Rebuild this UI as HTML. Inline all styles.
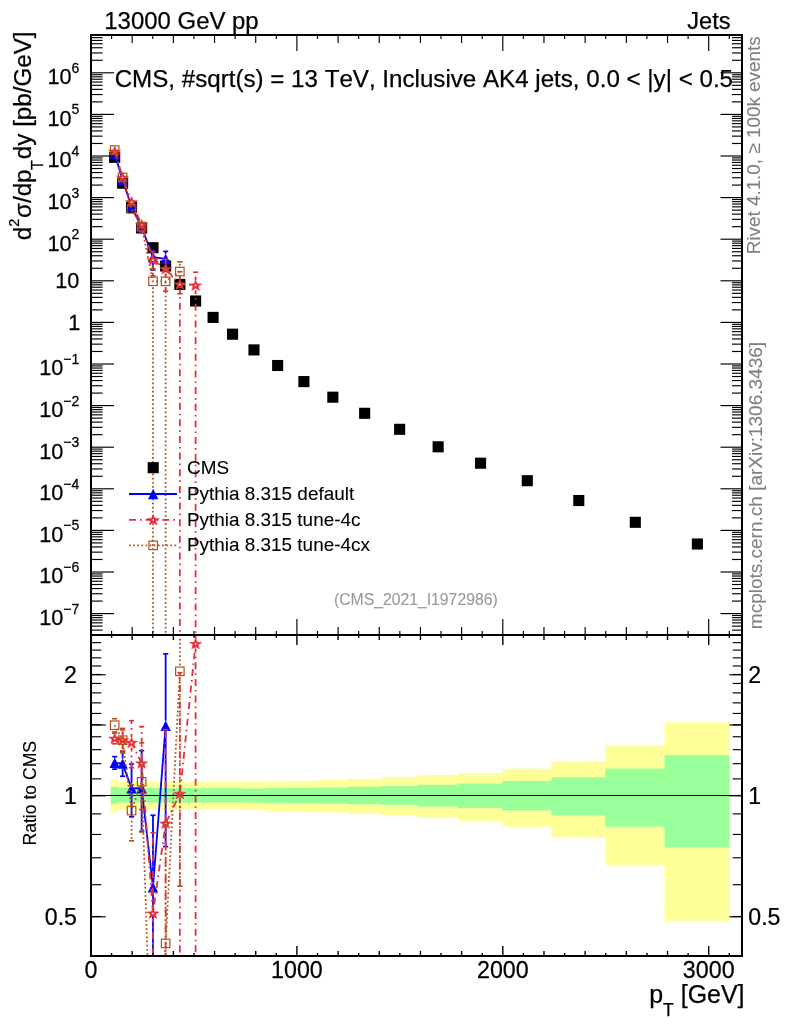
<!DOCTYPE html>
<html><head><meta charset="utf-8"><title>CMS_2021_I1972986</title>
<style>html,body{margin:0;padding:0;background:#fff}svg{display:block;will-change:transform}text{font-family:"Liberation Sans",sans-serif;stroke-width:.25px;stroke:#000;font-kerning:none}text.s{stroke-width:.1px}text.g{stroke:#808080;stroke-width:.1px}text.g2{stroke:#999;stroke-width:.1px}</style></head>
<body>
<svg width="786" height="1024" viewBox="0 0 786 1024" font-family="Liberation Sans, sans-serif">
<rect width="786" height="1024" fill="#fff"/>
<defs>
<clipPath id="cm"><rect x="91.0" y="35.0" width="651.0" height="600.0"/></clipPath>
<clipPath id="cr"><rect x="91.0" y="635.0" width="651.0" height="321.0"/></clipPath>
</defs>
<path d="M110.67 779.30L118.08 779.30L118.08 782.10L126.53 782.10L126.53 782.10L136.00 782.10L136.00 782.10L146.70 782.10L146.70 782.10L158.65 782.10L158.65 782.10L172.03 782.10L172.03 782.10L187.06 782.10L187.06 782.10L203.53 782.10L203.53 782.10L222.06 782.10L222.06 782.10L242.45 782.10L242.45 781.90L264.89 781.90L264.89 781.30L289.81 781.30L289.81 780.90L317.40 780.90L317.40 779.90L347.66 779.90L347.66 778.80L381.02 778.80L381.02 777.00L417.67 777.00L417.67 775.00L458.03 775.00L458.03 773.00L502.50 773.00L502.50 768.80L551.50 768.80L551.50 761.20L605.45 761.20L605.45 745.20L664.54 745.20L664.54 722.30L729.61 722.30L729.61 921.50L664.54 921.50L664.54 865.20L605.45 865.20L605.45 837.60L551.50 837.60L551.50 826.80L502.50 826.80L502.50 821.20L458.03 821.20L458.03 817.80L417.67 817.80L417.67 815.50L381.02 815.50L381.02 813.90L347.66 813.90L347.66 812.40L317.40 812.40L317.40 811.80L289.81 811.80L289.81 811.20L264.89 811.20L264.89 809.80L242.45 809.80L242.45 809.40L222.06 809.40L222.06 809.40L203.53 809.40L203.53 809.40L187.06 809.40L187.06 809.40L172.03 809.40L172.03 809.40L158.65 809.40L158.65 809.40L146.70 809.40L146.70 809.40L136.00 809.40L136.00 809.40L126.53 809.40L126.53 809.40L118.08 809.40L118.08 812.70L110.67 812.70Z" fill="#ffff99"/>
<path d="M110.67 786.90L118.08 786.90L118.08 788.10L126.53 788.10L126.53 788.10L136.00 788.10L136.00 788.10L146.70 788.10L146.70 788.10L158.65 788.10L158.65 788.10L172.03 788.10L172.03 788.10L187.06 788.10L187.06 788.10L203.53 788.10L203.53 788.10L222.06 788.10L222.06 788.10L242.45 788.10L242.45 788.60L264.89 788.60L264.89 788.00L289.81 788.00L289.81 787.80L317.40 787.80L317.40 787.40L347.66 787.40L347.66 786.80L381.02 786.80L381.02 786.10L417.67 786.10L417.67 784.80L458.03 784.80L458.03 783.40L502.50 783.40L502.50 781.10L551.50 781.10L551.50 777.20L605.45 777.20L605.45 768.40L664.54 768.40L664.54 755.30L729.61 755.30L729.61 847.60L664.54 847.60L664.54 826.80L605.45 826.80L605.45 815.50L551.50 815.50L551.50 810.50L502.50 810.50L502.50 808.00L458.03 808.00L458.03 806.60L417.67 806.60L417.67 805.00L381.02 805.00L381.02 804.30L347.66 804.30L347.66 803.80L317.40 803.80L317.40 803.60L289.81 803.60L289.81 803.30L264.89 803.30L264.89 802.70L242.45 802.70L242.45 802.40L222.06 802.40L222.06 802.40L203.53 802.40L203.53 802.40L187.06 802.40L187.06 802.40L172.03 802.40L172.03 802.40L158.65 802.40L158.65 802.40L146.70 802.40L146.70 802.40L136.00 802.40L136.00 802.40L126.53 802.40L126.53 802.40L118.08 802.40L118.08 803.80L110.67 803.80Z" fill="#99ff99"/>
<line x1="91.0" x2="742.0" y1="795.5" y2="795.5" stroke="#000" stroke-width="1.2"/>
<g clip-path="url(#cm)">
<rect x="109.13" y="151.75" width="11.1" height="11.1" fill="#000"/>
<rect x="117.06" y="177.65" width="11.1" height="11.1" fill="#000"/>
<rect x="126.01" y="201.85" width="11.1" height="11.1" fill="#000"/>
<rect x="136.10" y="222.45" width="11.1" height="11.1" fill="#000"/>
<rect x="147.43" y="242.15" width="11.1" height="11.1" fill="#000"/>
<rect x="160.09" y="260.45" width="11.1" height="11.1" fill="#000"/>
<rect x="174.30" y="278.85" width="11.1" height="11.1" fill="#000"/>
<rect x="190.05" y="295.45" width="11.1" height="11.1" fill="#000"/>
<rect x="207.55" y="311.85" width="11.1" height="11.1" fill="#000"/>
<rect x="227.01" y="328.65" width="11.1" height="11.1" fill="#000"/>
<rect x="248.42" y="344.35" width="11.1" height="11.1" fill="#000"/>
<rect x="272.10" y="359.95" width="11.1" height="11.1" fill="#000"/>
<rect x="298.35" y="376.05" width="11.1" height="11.1" fill="#000"/>
<rect x="327.28" y="391.65" width="11.1" height="11.1" fill="#000"/>
<rect x="359.09" y="407.75" width="11.1" height="11.1" fill="#000"/>
<rect x="394.09" y="423.75" width="11.1" height="11.1" fill="#000"/>
<rect x="432.60" y="441.25" width="11.1" height="11.1" fill="#000"/>
<rect x="475.01" y="457.65" width="11.1" height="11.1" fill="#000"/>
<rect x="521.75" y="475.15" width="11.1" height="11.1" fill="#000"/>
<rect x="573.23" y="494.95" width="11.1" height="11.1" fill="#000"/>
<rect x="629.75" y="516.75" width="11.1" height="11.1" fill="#000"/>
<rect x="691.83" y="538.45" width="11.1" height="11.1" fill="#000"/>
<polyline points="114.68,153.92 122.61,179.90 131.56,206.67 141.65,227.24 152.98,257.19 165.64,258.79" fill="none" stroke="#0000ff" stroke-width="1.8"/>
<line x1="152.98" x2="152.98" y1="252.19" y2="249.74" stroke="#0000ff" stroke-width="1.8"/>
<line x1="150.38" x2="155.58" y1="249.74" y2="249.74" stroke="#0000ff" stroke-width="1.6"/>
<line x1="152.98" x2="152.98" y1="262.19" y2="270.08" stroke="#0000ff" stroke-width="1.8"/>
<line x1="150.38" x2="155.58" y1="270.08" y2="270.08" stroke="#0000ff" stroke-width="1.6"/>
<line x1="165.64" x2="165.64" y1="253.79" y2="251.34" stroke="#0000ff" stroke-width="1.8"/>
<line x1="163.04" x2="168.24" y1="251.34" y2="251.34" stroke="#0000ff" stroke-width="1.6"/>
<line x1="165.64" x2="165.64" y1="263.79" y2="271.29" stroke="#0000ff" stroke-width="1.8"/>
<line x1="163.04" x2="168.24" y1="271.29" y2="271.29" stroke="#0000ff" stroke-width="1.6"/>
<path d="M109.48 159.12L119.88 159.12L114.68 148.72Z" fill="#0000ff"/>
<path d="M117.41 185.10L127.81 185.10L122.61 174.70Z" fill="#0000ff"/>
<path d="M126.36 211.87L136.76 211.87L131.56 201.47Z" fill="#0000ff"/>
<path d="M136.45 232.44L146.85 232.44L141.65 222.04Z" fill="#0000ff"/>
<path d="M147.78 262.39L158.18 262.39L152.98 251.99Z" fill="#0000ff"/>
<path d="M160.44 263.99L170.84 263.99L165.64 253.59Z" fill="#0000ff"/>
<polyline points="114.68,151.40 122.61,177.47 131.56,201.93 141.65,224.66 152.98,259.89 165.64,268.89 179.85,284.21 195.60,285.29" fill="none" stroke="#e5303c" stroke-width="1.8" stroke-dasharray="7 4 1.65 4"/>
<line x1="152.98" x2="152.98" y1="254.89" y2="251.56" stroke="#e5303c" stroke-width="1.8" stroke-dasharray="7 4 1.65 4" stroke-dashoffset="3.10"/>
<line x1="150.38" x2="155.58" y1="251.56" y2="251.56" stroke="#e5303c" stroke-width="1.6"/>
<line x1="152.98" x2="152.98" y1="264.89" y2="275.82" stroke="#e5303c" stroke-width="1.8" stroke-dasharray="7 4 1.65 4" stroke-dashoffset="3.10"/>
<line x1="150.38" x2="155.58" y1="275.82" y2="275.82" stroke="#e5303c" stroke-width="1.6"/>
<line x1="165.64" x2="165.64" y1="263.89" y2="259.22" stroke="#e5303c" stroke-width="1.8" stroke-dasharray="7 4 1.65 4" stroke-dashoffset="3.10"/>
<line x1="163.04" x2="168.24" y1="259.22" y2="259.22" stroke="#e5303c" stroke-width="1.6"/>
<line x1="165.64" x2="165.64" y1="273.89" y2="291.13" stroke="#e5303c" stroke-width="1.8" stroke-dasharray="7 4 1.65 4" stroke-dashoffset="3.10"/>
<line x1="163.04" x2="168.24" y1="291.13" y2="291.13" stroke="#e5303c" stroke-width="1.6"/>
<line x1="179.85" x2="179.85" y1="279.21" y2="271.69" stroke="#e5303c" stroke-width="1.8" stroke-dasharray="7 4 1.65 4" stroke-dashoffset="3.10"/>
<line x1="177.25" x2="182.45" y1="271.69" y2="271.69" stroke="#e5303c" stroke-width="1.6"/>
<line x1="179.85" x2="179.85" y1="289.21" y2="5000.00" stroke="#e5303c" stroke-width="1.8" stroke-dasharray="7 4 1.65 4" stroke-dashoffset="3.10"/>
<line x1="195.60" x2="195.60" y1="280.29" y2="272.23" stroke="#e5303c" stroke-width="1.8" stroke-dasharray="7 4 1.65 4" stroke-dashoffset="3.10"/>
<line x1="193.00" x2="198.20" y1="272.23" y2="272.23" stroke="#e5303c" stroke-width="1.6"/>
<line x1="195.60" x2="195.60" y1="290.29" y2="5000.00" stroke="#e5303c" stroke-width="1.8" stroke-dasharray="7 4 1.65 4" stroke-dashoffset="3.10"/>
<path d="M114.68 146.20L116.18 149.90L120.68 150.10L117.18 152.40L118.48 156.50L114.68 154.10L110.88 156.50L112.18 152.40L108.68 150.10L113.18 149.90Z" fill="#e5303c" stroke="#e5303c" stroke-width="0.6" stroke-linejoin="round"/><circle cx="114.68" cy="151.50" r="0.85" fill="#fff"/>
<path d="M122.61 172.27L124.11 175.97L128.61 176.17L125.11 178.47L126.41 182.57L122.61 180.17L118.81 182.57L120.11 178.47L116.61 176.17L121.11 175.97Z" fill="#e5303c" stroke="#e5303c" stroke-width="0.6" stroke-linejoin="round"/><circle cx="122.61" cy="177.57" r="0.85" fill="#fff"/>
<path d="M131.56 196.73L133.06 200.43L137.56 200.63L134.06 202.93L135.36 207.03L131.56 204.63L127.76 207.03L129.06 202.93L125.56 200.63L130.06 200.43Z" fill="#e5303c" stroke="#e5303c" stroke-width="0.6" stroke-linejoin="round"/><circle cx="131.56" cy="202.03" r="0.85" fill="#fff"/>
<path d="M141.65 219.46L143.15 223.16L147.65 223.36L144.15 225.66L145.45 229.76L141.65 227.36L137.85 229.76L139.15 225.66L135.65 223.36L140.15 223.16Z" fill="#e5303c" stroke="#e5303c" stroke-width="0.6" stroke-linejoin="round"/><circle cx="141.65" cy="224.76" r="0.85" fill="#fff"/>
<path d="M152.98 254.69L154.48 258.39L158.98 258.59L155.48 260.89L156.78 264.99L152.98 262.59L149.18 264.99L150.48 260.89L146.98 258.59L151.48 258.39Z" fill="#e5303c" stroke="#e5303c" stroke-width="0.6" stroke-linejoin="round"/><circle cx="152.98" cy="259.99" r="0.85" fill="#fff"/>
<path d="M165.64 263.69L167.14 267.39L171.64 267.59L168.14 269.89L169.44 273.99L165.64 271.59L161.84 273.99L163.14 269.89L159.64 267.59L164.14 267.39Z" fill="#e5303c" stroke="#e5303c" stroke-width="0.6" stroke-linejoin="round"/><circle cx="165.64" cy="268.99" r="0.85" fill="#fff"/>
<path d="M179.85 279.01L181.35 282.71L185.85 282.91L182.35 285.21L183.65 289.31L179.85 286.91L176.05 289.31L177.35 285.21L173.85 282.91L178.35 282.71Z" fill="#e5303c" stroke="#e5303c" stroke-width="0.6" stroke-linejoin="round"/><circle cx="179.85" cy="284.31" r="0.85" fill="#fff"/>
<path d="M195.60 280.09L197.10 283.79L201.60 283.99L198.10 286.29L199.40 290.39L195.60 287.99L191.80 290.39L193.10 286.29L189.60 283.99L194.10 283.79Z" fill="#e5303c" stroke="#e5303c" stroke-width="0.6" stroke-linejoin="round"/><circle cx="195.60" cy="285.39" r="0.85" fill="#fff"/>
<polyline points="114.68,150.03 122.61,177.48 131.56,208.96 141.65,226.58 152.98,281.28 165.64,281.31 179.85,271.55" fill="none" stroke="#b4501a" stroke-width="1.8" stroke-dasharray="1.7 2.44"/>
<line x1="141.65" x2="141.65" y1="231.58" y2="231.78" stroke="#b4501a" stroke-width="1.8" stroke-dasharray="1.7 2.44" stroke-dashoffset="3.10"/>
<line x1="139.05" x2="144.25" y1="231.78" y2="231.78" stroke="#b4501a" stroke-width="1.6"/>
<line x1="152.98" x2="152.98" y1="276.28" y2="268.76" stroke="#b4501a" stroke-width="1.8" stroke-dasharray="1.7 2.44" stroke-dashoffset="3.10"/>
<line x1="150.38" x2="155.58" y1="268.76" y2="268.76" stroke="#b4501a" stroke-width="1.6"/>
<line x1="152.98" x2="152.98" y1="286.28" y2="5000.00" stroke="#b4501a" stroke-width="1.8" stroke-dasharray="1.7 2.44" stroke-dashoffset="3.10"/>
<line x1="165.64" x2="165.64" y1="276.31" y2="268.78" stroke="#b4501a" stroke-width="1.8" stroke-dasharray="1.7 2.44" stroke-dashoffset="3.10"/>
<line x1="163.04" x2="168.24" y1="268.78" y2="268.78" stroke="#b4501a" stroke-width="1.6"/>
<line x1="165.64" x2="165.64" y1="286.31" y2="5000.00" stroke="#b4501a" stroke-width="1.8" stroke-dasharray="1.7 2.44" stroke-dashoffset="3.10"/>
<line x1="179.85" x2="179.85" y1="266.55" y2="261.88" stroke="#b4501a" stroke-width="1.8" stroke-dasharray="1.7 2.44" stroke-dashoffset="3.10"/>
<line x1="177.25" x2="182.45" y1="261.88" y2="261.88" stroke="#b4501a" stroke-width="1.6"/>
<line x1="179.85" x2="179.85" y1="276.55" y2="293.79" stroke="#b4501a" stroke-width="1.8" stroke-dasharray="1.7 2.44" stroke-dashoffset="3.10"/>
<line x1="177.25" x2="182.45" y1="293.79" y2="293.79" stroke="#b4501a" stroke-width="1.6"/>
<rect x="110.43" y="145.78" width="8.5" height="8.5" fill="none" stroke="#b4501a" stroke-width="1.2"/>
<rect x="118.36" y="173.23" width="8.5" height="8.5" fill="none" stroke="#b4501a" stroke-width="1.2"/>
<rect x="127.31" y="204.71" width="8.5" height="8.5" fill="none" stroke="#b4501a" stroke-width="1.2"/>
<rect x="137.40" y="222.33" width="8.5" height="8.5" fill="none" stroke="#b4501a" stroke-width="1.2"/>
<rect x="148.73" y="277.03" width="8.5" height="8.5" fill="none" stroke="#b4501a" stroke-width="1.2"/>
<rect x="161.39" y="277.06" width="8.5" height="8.5" fill="none" stroke="#b4501a" stroke-width="1.2"/>
<rect x="175.60" y="267.30" width="8.5" height="8.5" fill="none" stroke="#b4501a" stroke-width="1.2"/>
</g>
<g clip-path="url(#cr)">
<polyline points="114.68,762.80 122.61,763.60 131.56,788.40 141.65,788.20 152.98,887.20 165.64,725.80" fill="none" stroke="#0000ff" stroke-width="1.8"/>
<line x1="114.68" x2="114.68" y1="757.80" y2="756.63" stroke="#0000ff" stroke-width="1.8"/>
<line x1="112.08" x2="117.28" y1="756.63" y2="756.63" stroke="#0000ff" stroke-width="1.6"/>
<line x1="114.68" x2="114.68" y1="767.80" y2="769.20" stroke="#0000ff" stroke-width="1.8"/>
<line x1="112.08" x2="117.28" y1="769.20" y2="769.20" stroke="#0000ff" stroke-width="1.6"/>
<line x1="122.61" x2="122.61" y1="758.60" y2="751.79" stroke="#0000ff" stroke-width="1.8"/>
<line x1="120.01" x2="125.21" y1="751.79" y2="751.79" stroke="#0000ff" stroke-width="1.6"/>
<line x1="122.61" x2="122.61" y1="768.60" y2="776.27" stroke="#0000ff" stroke-width="1.8"/>
<line x1="120.01" x2="125.21" y1="776.27" y2="776.27" stroke="#0000ff" stroke-width="1.6"/>
<line x1="131.56" x2="131.56" y1="783.40" y2="764.00" stroke="#0000ff" stroke-width="1.8"/>
<line x1="128.96" x2="134.16" y1="764.00" y2="764.00" stroke="#0000ff" stroke-width="1.6"/>
<line x1="131.56" x2="131.56" y1="793.40" y2="816.77" stroke="#0000ff" stroke-width="1.8"/>
<line x1="128.96" x2="134.16" y1="816.77" y2="816.77" stroke="#0000ff" stroke-width="1.6"/>
<line x1="141.65" x2="141.65" y1="783.20" y2="750.64" stroke="#0000ff" stroke-width="1.8"/>
<line x1="139.05" x2="144.25" y1="750.64" y2="750.64" stroke="#0000ff" stroke-width="1.6"/>
<line x1="141.65" x2="141.65" y1="793.20" y2="831.35" stroke="#0000ff" stroke-width="1.8"/>
<line x1="139.05" x2="144.25" y1="831.35" y2="831.35" stroke="#0000ff" stroke-width="1.6"/>
<line x1="152.98" x2="152.98" y1="882.20" y2="815.25" stroke="#0000ff" stroke-width="1.8"/>
<line x1="150.38" x2="155.58" y1="815.25" y2="815.25" stroke="#0000ff" stroke-width="1.6"/>
<line x1="152.98" x2="152.98" y1="892.20" y2="1011.74" stroke="#0000ff" stroke-width="1.8"/>
<line x1="150.38" x2="155.58" y1="1011.74" y2="1011.74" stroke="#0000ff" stroke-width="1.6"/>
<line x1="165.64" x2="165.64" y1="720.80" y2="653.85" stroke="#0000ff" stroke-width="1.8"/>
<line x1="163.04" x2="168.24" y1="653.85" y2="653.85" stroke="#0000ff" stroke-width="1.6"/>
<line x1="165.64" x2="165.64" y1="730.80" y2="846.60" stroke="#0000ff" stroke-width="1.8"/>
<line x1="163.04" x2="168.24" y1="846.60" y2="846.60" stroke="#0000ff" stroke-width="1.6"/>
<path d="M109.48 768.00L119.88 768.00L114.68 757.60Z" fill="#0000ff"/>
<path d="M117.41 768.80L127.81 768.80L122.61 758.40Z" fill="#0000ff"/>
<path d="M126.36 793.60L136.76 793.60L131.56 783.20Z" fill="#0000ff"/>
<path d="M136.45 793.40L146.85 793.40L141.65 783.00Z" fill="#0000ff"/>
<path d="M147.78 892.40L158.18 892.40L152.98 882.00Z" fill="#0000ff"/>
<path d="M160.44 731.00L170.84 731.00L165.64 720.60Z" fill="#0000ff"/>
<polyline points="114.68,738.50 122.61,740.10 131.56,742.60 141.65,763.20 152.98,913.30 165.64,823.40 179.85,793.70 195.60,643.70" fill="none" stroke="#e5303c" stroke-width="1.8" stroke-dasharray="7 4 1.65 4"/>
<line x1="114.68" x2="114.68" y1="733.50" y2="733.34" stroke="#e5303c" stroke-width="1.8" stroke-dasharray="7 4 1.65 4" stroke-dashoffset="3.10"/>
<line x1="112.08" x2="117.28" y1="733.34" y2="733.34" stroke="#e5303c" stroke-width="1.6"/>
<line x1="114.68" x2="114.68" y1="743.50" y2="743.82" stroke="#e5303c" stroke-width="1.8" stroke-dasharray="7 4 1.65 4" stroke-dashoffset="3.10"/>
<line x1="112.08" x2="117.28" y1="743.82" y2="743.82" stroke="#e5303c" stroke-width="1.6"/>
<line x1="122.61" x2="122.61" y1="735.10" y2="729.93" stroke="#e5303c" stroke-width="1.8" stroke-dasharray="7 4 1.65 4" stroke-dashoffset="3.10"/>
<line x1="120.01" x2="125.21" y1="729.93" y2="729.93" stroke="#e5303c" stroke-width="1.6"/>
<line x1="122.61" x2="122.61" y1="745.10" y2="750.90" stroke="#e5303c" stroke-width="1.8" stroke-dasharray="7 4 1.65 4" stroke-dashoffset="3.10"/>
<line x1="120.01" x2="125.21" y1="750.90" y2="750.90" stroke="#e5303c" stroke-width="1.6"/>
<line x1="131.56" x2="131.56" y1="737.60" y2="720.65" stroke="#e5303c" stroke-width="1.8" stroke-dasharray="7 4 1.65 4" stroke-dashoffset="3.10"/>
<line x1="128.96" x2="134.16" y1="720.65" y2="720.65" stroke="#e5303c" stroke-width="1.6"/>
<line x1="131.56" x2="131.56" y1="747.60" y2="767.72" stroke="#e5303c" stroke-width="1.8" stroke-dasharray="7 4 1.65 4" stroke-dashoffset="3.10"/>
<line x1="128.96" x2="134.16" y1="767.72" y2="767.72" stroke="#e5303c" stroke-width="1.6"/>
<line x1="141.65" x2="141.65" y1="758.20" y2="726.63" stroke="#e5303c" stroke-width="1.8" stroke-dasharray="7 4 1.65 4" stroke-dashoffset="3.10"/>
<line x1="139.05" x2="144.25" y1="726.63" y2="726.63" stroke="#e5303c" stroke-width="1.6"/>
<line x1="141.65" x2="141.65" y1="768.20" y2="809.51" stroke="#e5303c" stroke-width="1.8" stroke-dasharray="7 4 1.65 4" stroke-dashoffset="3.10"/>
<line x1="139.05" x2="144.25" y1="809.51" y2="809.51" stroke="#e5303c" stroke-width="1.6"/>
<line x1="152.98" x2="152.98" y1="908.30" y2="832.78" stroke="#e5303c" stroke-width="1.8" stroke-dasharray="7 4 1.65 4" stroke-dashoffset="3.10"/>
<line x1="150.38" x2="155.58" y1="832.78" y2="832.78" stroke="#e5303c" stroke-width="1.6"/>
<line x1="152.98" x2="152.98" y1="918.30" y2="1067.27" stroke="#e5303c" stroke-width="1.8" stroke-dasharray="7 4 1.65 4" stroke-dashoffset="3.10"/>
<line x1="150.38" x2="155.58" y1="1067.27" y2="1067.27" stroke="#e5303c" stroke-width="1.6"/>
<line x1="165.64" x2="165.64" y1="818.40" y2="729.94" stroke="#e5303c" stroke-width="1.8" stroke-dasharray="7 4 1.65 4" stroke-dashoffset="3.10"/>
<line x1="163.04" x2="168.24" y1="729.94" y2="729.94" stroke="#e5303c" stroke-width="1.6"/>
<line x1="165.64" x2="165.64" y1="828.40" y2="1038.32" stroke="#e5303c" stroke-width="1.8" stroke-dasharray="7 4 1.65 4" stroke-dashoffset="3.10"/>
<line x1="163.04" x2="168.24" y1="1038.32" y2="1038.32" stroke="#e5303c" stroke-width="1.6"/>
<line x1="179.85" x2="179.85" y1="788.70" y2="672.69" stroke="#e5303c" stroke-width="1.8" stroke-dasharray="7 4 1.65 4" stroke-dashoffset="3.10"/>
<line x1="177.25" x2="182.45" y1="672.69" y2="672.69" stroke="#e5303c" stroke-width="1.6"/>
<line x1="179.85" x2="179.85" y1="798.70" y2="5000.00" stroke="#e5303c" stroke-width="1.8" stroke-dasharray="7 4 1.65 4" stroke-dashoffset="3.10"/>
<line x1="195.60" x2="195.60" y1="638.70" y2="517.53" stroke="#e5303c" stroke-width="1.8" stroke-dasharray="7 4 1.65 4" stroke-dashoffset="3.10"/>
<line x1="193.00" x2="198.20" y1="517.53" y2="517.53" stroke="#e5303c" stroke-width="1.6"/>
<line x1="195.60" x2="195.60" y1="648.70" y2="5000.00" stroke="#e5303c" stroke-width="1.8" stroke-dasharray="7 4 1.65 4" stroke-dashoffset="3.10"/>
<path d="M114.68 733.30L116.18 737.00L120.68 737.20L117.18 739.50L118.48 743.60L114.68 741.20L110.88 743.60L112.18 739.50L108.68 737.20L113.18 737.00Z" fill="#e5303c" stroke="#e5303c" stroke-width="0.6" stroke-linejoin="round"/><circle cx="114.68" cy="738.60" r="0.85" fill="#fff"/>
<path d="M122.61 734.90L124.11 738.60L128.61 738.80L125.11 741.10L126.41 745.20L122.61 742.80L118.81 745.20L120.11 741.10L116.61 738.80L121.11 738.60Z" fill="#e5303c" stroke="#e5303c" stroke-width="0.6" stroke-linejoin="round"/><circle cx="122.61" cy="740.20" r="0.85" fill="#fff"/>
<path d="M131.56 737.40L133.06 741.10L137.56 741.30L134.06 743.60L135.36 747.70L131.56 745.30L127.76 747.70L129.06 743.60L125.56 741.30L130.06 741.10Z" fill="#e5303c" stroke="#e5303c" stroke-width="0.6" stroke-linejoin="round"/><circle cx="131.56" cy="742.70" r="0.85" fill="#fff"/>
<path d="M141.65 758.00L143.15 761.70L147.65 761.90L144.15 764.20L145.45 768.30L141.65 765.90L137.85 768.30L139.15 764.20L135.65 761.90L140.15 761.70Z" fill="#e5303c" stroke="#e5303c" stroke-width="0.6" stroke-linejoin="round"/><circle cx="141.65" cy="763.30" r="0.85" fill="#fff"/>
<path d="M152.98 908.10L154.48 911.80L158.98 912.00L155.48 914.30L156.78 918.40L152.98 916.00L149.18 918.40L150.48 914.30L146.98 912.00L151.48 911.80Z" fill="#e5303c" stroke="#e5303c" stroke-width="0.6" stroke-linejoin="round"/><circle cx="152.98" cy="913.40" r="0.85" fill="#fff"/>
<path d="M165.64 818.20L167.14 821.90L171.64 822.10L168.14 824.40L169.44 828.50L165.64 826.10L161.84 828.50L163.14 824.40L159.64 822.10L164.14 821.90Z" fill="#e5303c" stroke="#e5303c" stroke-width="0.6" stroke-linejoin="round"/><circle cx="165.64" cy="823.50" r="0.85" fill="#fff"/>
<path d="M179.85 788.50L181.35 792.20L185.85 792.40L182.35 794.70L183.65 798.80L179.85 796.40L176.05 798.80L177.35 794.70L173.85 792.40L178.35 792.20Z" fill="#e5303c" stroke="#e5303c" stroke-width="0.6" stroke-linejoin="round"/><circle cx="179.85" cy="793.80" r="0.85" fill="#fff"/>
<path d="M195.60 638.50L197.10 642.20L201.60 642.40L198.10 644.70L199.40 648.80L195.60 646.40L191.80 648.80L193.10 644.70L189.60 642.40L194.10 642.20Z" fill="#e5303c" stroke="#e5303c" stroke-width="0.6" stroke-linejoin="round"/><circle cx="195.60" cy="643.80" r="0.85" fill="#fff"/>
<polyline points="114.68,725.20 122.61,740.20 131.56,810.60 141.65,781.80 152.98,1120.00 165.64,943.40 179.85,671.30" fill="none" stroke="#b4501a" stroke-width="1.8" stroke-dasharray="1.7 2.44"/>
<line x1="114.68" x2="114.68" y1="720.20" y2="718.69" stroke="#b4501a" stroke-width="1.8" stroke-dasharray="1.7 2.44" stroke-dashoffset="3.10"/>
<line x1="112.08" x2="117.28" y1="718.69" y2="718.69" stroke="#b4501a" stroke-width="1.6"/>
<line x1="114.68" x2="114.68" y1="730.20" y2="731.96" stroke="#b4501a" stroke-width="1.8" stroke-dasharray="1.7 2.44" stroke-dashoffset="3.10"/>
<line x1="112.08" x2="117.28" y1="731.96" y2="731.96" stroke="#b4501a" stroke-width="1.6"/>
<line x1="122.61" x2="122.61" y1="735.20" y2="728.39" stroke="#b4501a" stroke-width="1.8" stroke-dasharray="1.7 2.44" stroke-dashoffset="3.10"/>
<line x1="120.01" x2="125.21" y1="728.39" y2="728.39" stroke="#b4501a" stroke-width="1.6"/>
<line x1="122.61" x2="122.61" y1="745.20" y2="752.87" stroke="#b4501a" stroke-width="1.8" stroke-dasharray="1.7 2.44" stroke-dashoffset="3.10"/>
<line x1="120.01" x2="125.21" y1="752.87" y2="752.87" stroke="#b4501a" stroke-width="1.6"/>
<line x1="131.56" x2="131.56" y1="805.60" y2="784.84" stroke="#b4501a" stroke-width="1.8" stroke-dasharray="1.7 2.44" stroke-dashoffset="3.10"/>
<line x1="128.96" x2="134.16" y1="784.84" y2="784.84" stroke="#b4501a" stroke-width="1.6"/>
<line x1="131.56" x2="131.56" y1="815.60" y2="840.83" stroke="#b4501a" stroke-width="1.8" stroke-dasharray="1.7 2.44" stroke-dashoffset="3.10"/>
<line x1="128.96" x2="134.16" y1="840.83" y2="840.83" stroke="#b4501a" stroke-width="1.6"/>
<line x1="141.65" x2="141.65" y1="776.80" y2="742.84" stroke="#b4501a" stroke-width="1.8" stroke-dasharray="1.7 2.44" stroke-dashoffset="3.10"/>
<line x1="139.05" x2="144.25" y1="742.84" y2="742.84" stroke="#b4501a" stroke-width="1.6"/>
<line x1="141.65" x2="141.65" y1="786.80" y2="832.03" stroke="#b4501a" stroke-width="1.8" stroke-dasharray="1.7 2.44" stroke-dashoffset="3.10"/>
<line x1="139.05" x2="144.25" y1="832.03" y2="832.03" stroke="#b4501a" stroke-width="1.6"/>
<line x1="152.98" x2="152.98" y1="1115.00" y2="998.99" stroke="#b4501a" stroke-width="1.8" stroke-dasharray="1.7 2.44" stroke-dashoffset="3.10"/>
<line x1="150.38" x2="155.58" y1="998.99" y2="998.99" stroke="#b4501a" stroke-width="1.6"/>
<line x1="152.98" x2="152.98" y1="1125.00" y2="5000.00" stroke="#b4501a" stroke-width="1.8" stroke-dasharray="1.7 2.44" stroke-dashoffset="3.10"/>
<line x1="165.64" x2="165.64" y1="938.40" y2="822.39" stroke="#b4501a" stroke-width="1.8" stroke-dasharray="1.7 2.44" stroke-dashoffset="3.10"/>
<line x1="163.04" x2="168.24" y1="822.39" y2="822.39" stroke="#b4501a" stroke-width="1.6"/>
<line x1="165.64" x2="165.64" y1="948.40" y2="5000.00" stroke="#b4501a" stroke-width="1.8" stroke-dasharray="1.7 2.44" stroke-dashoffset="3.10"/>
<line x1="179.85" x2="179.85" y1="666.30" y2="577.84" stroke="#b4501a" stroke-width="1.8" stroke-dasharray="1.7 2.44" stroke-dashoffset="3.10"/>
<line x1="177.25" x2="182.45" y1="577.84" y2="577.84" stroke="#b4501a" stroke-width="1.6"/>
<line x1="179.85" x2="179.85" y1="676.30" y2="886.22" stroke="#b4501a" stroke-width="1.8" stroke-dasharray="1.7 2.44" stroke-dashoffset="3.10"/>
<line x1="177.25" x2="182.45" y1="886.22" y2="886.22" stroke="#b4501a" stroke-width="1.6"/>
<rect x="110.43" y="720.95" width="8.5" height="8.5" fill="none" stroke="#b4501a" stroke-width="1.2"/>
<rect x="118.36" y="735.95" width="8.5" height="8.5" fill="none" stroke="#b4501a" stroke-width="1.2"/>
<rect x="127.31" y="806.35" width="8.5" height="8.5" fill="none" stroke="#b4501a" stroke-width="1.2"/>
<rect x="137.40" y="777.55" width="8.5" height="8.5" fill="none" stroke="#b4501a" stroke-width="1.2"/>
<rect x="148.73" y="1115.75" width="8.5" height="8.5" fill="none" stroke="#b4501a" stroke-width="1.2"/>
<rect x="161.39" y="939.15" width="8.5" height="8.5" fill="none" stroke="#b4501a" stroke-width="1.2"/>
<rect x="175.60" y="667.05" width="8.5" height="8.5" fill="none" stroke="#b4501a" stroke-width="1.2"/>
</g>
<g stroke="#000" stroke-width="1.15" fill="none">
<line x1="91.00" x2="102.60" y1="630.15" y2="630.15"/>
<line x1="732.00" x2="742.00" y1="630.15" y2="630.15"/>
<line x1="91.00" x2="102.60" y1="626.12" y2="626.12"/>
<line x1="732.00" x2="742.00" y1="626.12" y2="626.12"/>
<line x1="91.00" x2="102.60" y1="622.83" y2="622.83"/>
<line x1="732.00" x2="742.00" y1="622.83" y2="622.83"/>
<line x1="91.00" x2="102.60" y1="620.04" y2="620.04"/>
<line x1="732.00" x2="742.00" y1="620.04" y2="620.04"/>
<line x1="91.00" x2="102.60" y1="617.63" y2="617.63"/>
<line x1="732.00" x2="742.00" y1="617.63" y2="617.63"/>
<line x1="91.00" x2="102.60" y1="615.50" y2="615.50"/>
<line x1="732.00" x2="742.00" y1="615.50" y2="615.50"/>
<line x1="91.00" x2="114.00" y1="613.60" y2="613.60"/>
<line x1="720.50" x2="742.00" y1="613.60" y2="613.60"/>
<line x1="91.00" x2="102.60" y1="601.08" y2="601.08"/>
<line x1="732.00" x2="742.00" y1="601.08" y2="601.08"/>
<line x1="91.00" x2="102.60" y1="593.75" y2="593.75"/>
<line x1="732.00" x2="742.00" y1="593.75" y2="593.75"/>
<line x1="91.00" x2="102.60" y1="588.55" y2="588.55"/>
<line x1="732.00" x2="742.00" y1="588.55" y2="588.55"/>
<line x1="91.00" x2="102.60" y1="584.52" y2="584.52"/>
<line x1="732.00" x2="742.00" y1="584.52" y2="584.52"/>
<line x1="91.00" x2="102.60" y1="581.23" y2="581.23"/>
<line x1="732.00" x2="742.00" y1="581.23" y2="581.23"/>
<line x1="91.00" x2="102.60" y1="578.44" y2="578.44"/>
<line x1="732.00" x2="742.00" y1="578.44" y2="578.44"/>
<line x1="91.00" x2="102.60" y1="576.03" y2="576.03"/>
<line x1="732.00" x2="742.00" y1="576.03" y2="576.03"/>
<line x1="91.00" x2="102.60" y1="573.90" y2="573.90"/>
<line x1="732.00" x2="742.00" y1="573.90" y2="573.90"/>
<line x1="91.00" x2="114.00" y1="572.00" y2="572.00"/>
<line x1="720.50" x2="742.00" y1="572.00" y2="572.00"/>
<line x1="91.00" x2="102.60" y1="559.48" y2="559.48"/>
<line x1="732.00" x2="742.00" y1="559.48" y2="559.48"/>
<line x1="91.00" x2="102.60" y1="552.15" y2="552.15"/>
<line x1="732.00" x2="742.00" y1="552.15" y2="552.15"/>
<line x1="91.00" x2="102.60" y1="546.95" y2="546.95"/>
<line x1="732.00" x2="742.00" y1="546.95" y2="546.95"/>
<line x1="91.00" x2="102.60" y1="542.92" y2="542.92"/>
<line x1="732.00" x2="742.00" y1="542.92" y2="542.92"/>
<line x1="91.00" x2="102.60" y1="539.63" y2="539.63"/>
<line x1="732.00" x2="742.00" y1="539.63" y2="539.63"/>
<line x1="91.00" x2="102.60" y1="536.84" y2="536.84"/>
<line x1="732.00" x2="742.00" y1="536.84" y2="536.84"/>
<line x1="91.00" x2="102.60" y1="534.43" y2="534.43"/>
<line x1="732.00" x2="742.00" y1="534.43" y2="534.43"/>
<line x1="91.00" x2="102.60" y1="532.30" y2="532.30"/>
<line x1="732.00" x2="742.00" y1="532.30" y2="532.30"/>
<line x1="91.00" x2="114.00" y1="530.40" y2="530.40"/>
<line x1="720.50" x2="742.00" y1="530.40" y2="530.40"/>
<line x1="91.00" x2="102.60" y1="517.88" y2="517.88"/>
<line x1="732.00" x2="742.00" y1="517.88" y2="517.88"/>
<line x1="91.00" x2="102.60" y1="510.55" y2="510.55"/>
<line x1="732.00" x2="742.00" y1="510.55" y2="510.55"/>
<line x1="91.00" x2="102.60" y1="505.35" y2="505.35"/>
<line x1="732.00" x2="742.00" y1="505.35" y2="505.35"/>
<line x1="91.00" x2="102.60" y1="501.32" y2="501.32"/>
<line x1="732.00" x2="742.00" y1="501.32" y2="501.32"/>
<line x1="91.00" x2="102.60" y1="498.03" y2="498.03"/>
<line x1="732.00" x2="742.00" y1="498.03" y2="498.03"/>
<line x1="91.00" x2="102.60" y1="495.24" y2="495.24"/>
<line x1="732.00" x2="742.00" y1="495.24" y2="495.24"/>
<line x1="91.00" x2="102.60" y1="492.83" y2="492.83"/>
<line x1="732.00" x2="742.00" y1="492.83" y2="492.83"/>
<line x1="91.00" x2="102.60" y1="490.70" y2="490.70"/>
<line x1="732.00" x2="742.00" y1="490.70" y2="490.70"/>
<line x1="91.00" x2="114.00" y1="488.80" y2="488.80"/>
<line x1="720.50" x2="742.00" y1="488.80" y2="488.80"/>
<line x1="91.00" x2="102.60" y1="476.28" y2="476.28"/>
<line x1="732.00" x2="742.00" y1="476.28" y2="476.28"/>
<line x1="91.00" x2="102.60" y1="468.95" y2="468.95"/>
<line x1="732.00" x2="742.00" y1="468.95" y2="468.95"/>
<line x1="91.00" x2="102.60" y1="463.75" y2="463.75"/>
<line x1="732.00" x2="742.00" y1="463.75" y2="463.75"/>
<line x1="91.00" x2="102.60" y1="459.72" y2="459.72"/>
<line x1="732.00" x2="742.00" y1="459.72" y2="459.72"/>
<line x1="91.00" x2="102.60" y1="456.43" y2="456.43"/>
<line x1="732.00" x2="742.00" y1="456.43" y2="456.43"/>
<line x1="91.00" x2="102.60" y1="453.64" y2="453.64"/>
<line x1="732.00" x2="742.00" y1="453.64" y2="453.64"/>
<line x1="91.00" x2="102.60" y1="451.23" y2="451.23"/>
<line x1="732.00" x2="742.00" y1="451.23" y2="451.23"/>
<line x1="91.00" x2="102.60" y1="449.10" y2="449.10"/>
<line x1="732.00" x2="742.00" y1="449.10" y2="449.10"/>
<line x1="91.00" x2="114.00" y1="447.20" y2="447.20"/>
<line x1="720.50" x2="742.00" y1="447.20" y2="447.20"/>
<line x1="91.00" x2="102.60" y1="434.68" y2="434.68"/>
<line x1="732.00" x2="742.00" y1="434.68" y2="434.68"/>
<line x1="91.00" x2="102.60" y1="427.35" y2="427.35"/>
<line x1="732.00" x2="742.00" y1="427.35" y2="427.35"/>
<line x1="91.00" x2="102.60" y1="422.15" y2="422.15"/>
<line x1="732.00" x2="742.00" y1="422.15" y2="422.15"/>
<line x1="91.00" x2="102.60" y1="418.12" y2="418.12"/>
<line x1="732.00" x2="742.00" y1="418.12" y2="418.12"/>
<line x1="91.00" x2="102.60" y1="414.83" y2="414.83"/>
<line x1="732.00" x2="742.00" y1="414.83" y2="414.83"/>
<line x1="91.00" x2="102.60" y1="412.04" y2="412.04"/>
<line x1="732.00" x2="742.00" y1="412.04" y2="412.04"/>
<line x1="91.00" x2="102.60" y1="409.63" y2="409.63"/>
<line x1="732.00" x2="742.00" y1="409.63" y2="409.63"/>
<line x1="91.00" x2="102.60" y1="407.50" y2="407.50"/>
<line x1="732.00" x2="742.00" y1="407.50" y2="407.50"/>
<line x1="91.00" x2="114.00" y1="405.60" y2="405.60"/>
<line x1="720.50" x2="742.00" y1="405.60" y2="405.60"/>
<line x1="91.00" x2="102.60" y1="393.08" y2="393.08"/>
<line x1="732.00" x2="742.00" y1="393.08" y2="393.08"/>
<line x1="91.00" x2="102.60" y1="385.75" y2="385.75"/>
<line x1="732.00" x2="742.00" y1="385.75" y2="385.75"/>
<line x1="91.00" x2="102.60" y1="380.55" y2="380.55"/>
<line x1="732.00" x2="742.00" y1="380.55" y2="380.55"/>
<line x1="91.00" x2="102.60" y1="376.52" y2="376.52"/>
<line x1="732.00" x2="742.00" y1="376.52" y2="376.52"/>
<line x1="91.00" x2="102.60" y1="373.23" y2="373.23"/>
<line x1="732.00" x2="742.00" y1="373.23" y2="373.23"/>
<line x1="91.00" x2="102.60" y1="370.44" y2="370.44"/>
<line x1="732.00" x2="742.00" y1="370.44" y2="370.44"/>
<line x1="91.00" x2="102.60" y1="368.03" y2="368.03"/>
<line x1="732.00" x2="742.00" y1="368.03" y2="368.03"/>
<line x1="91.00" x2="102.60" y1="365.90" y2="365.90"/>
<line x1="732.00" x2="742.00" y1="365.90" y2="365.90"/>
<line x1="91.00" x2="114.00" y1="364.00" y2="364.00"/>
<line x1="720.50" x2="742.00" y1="364.00" y2="364.00"/>
<line x1="91.00" x2="102.60" y1="351.48" y2="351.48"/>
<line x1="732.00" x2="742.00" y1="351.48" y2="351.48"/>
<line x1="91.00" x2="102.60" y1="344.15" y2="344.15"/>
<line x1="732.00" x2="742.00" y1="344.15" y2="344.15"/>
<line x1="91.00" x2="102.60" y1="338.95" y2="338.95"/>
<line x1="732.00" x2="742.00" y1="338.95" y2="338.95"/>
<line x1="91.00" x2="102.60" y1="334.92" y2="334.92"/>
<line x1="732.00" x2="742.00" y1="334.92" y2="334.92"/>
<line x1="91.00" x2="102.60" y1="331.63" y2="331.63"/>
<line x1="732.00" x2="742.00" y1="331.63" y2="331.63"/>
<line x1="91.00" x2="102.60" y1="328.84" y2="328.84"/>
<line x1="732.00" x2="742.00" y1="328.84" y2="328.84"/>
<line x1="91.00" x2="102.60" y1="326.43" y2="326.43"/>
<line x1="732.00" x2="742.00" y1="326.43" y2="326.43"/>
<line x1="91.00" x2="102.60" y1="324.30" y2="324.30"/>
<line x1="732.00" x2="742.00" y1="324.30" y2="324.30"/>
<line x1="91.00" x2="114.00" y1="322.40" y2="322.40"/>
<line x1="720.50" x2="742.00" y1="322.40" y2="322.40"/>
<line x1="91.00" x2="102.60" y1="309.88" y2="309.88"/>
<line x1="732.00" x2="742.00" y1="309.88" y2="309.88"/>
<line x1="91.00" x2="102.60" y1="302.55" y2="302.55"/>
<line x1="732.00" x2="742.00" y1="302.55" y2="302.55"/>
<line x1="91.00" x2="102.60" y1="297.35" y2="297.35"/>
<line x1="732.00" x2="742.00" y1="297.35" y2="297.35"/>
<line x1="91.00" x2="102.60" y1="293.32" y2="293.32"/>
<line x1="732.00" x2="742.00" y1="293.32" y2="293.32"/>
<line x1="91.00" x2="102.60" y1="290.03" y2="290.03"/>
<line x1="732.00" x2="742.00" y1="290.03" y2="290.03"/>
<line x1="91.00" x2="102.60" y1="287.24" y2="287.24"/>
<line x1="732.00" x2="742.00" y1="287.24" y2="287.24"/>
<line x1="91.00" x2="102.60" y1="284.83" y2="284.83"/>
<line x1="732.00" x2="742.00" y1="284.83" y2="284.83"/>
<line x1="91.00" x2="102.60" y1="282.70" y2="282.70"/>
<line x1="732.00" x2="742.00" y1="282.70" y2="282.70"/>
<line x1="91.00" x2="114.00" y1="280.80" y2="280.80"/>
<line x1="720.50" x2="742.00" y1="280.80" y2="280.80"/>
<line x1="91.00" x2="102.60" y1="268.28" y2="268.28"/>
<line x1="732.00" x2="742.00" y1="268.28" y2="268.28"/>
<line x1="91.00" x2="102.60" y1="260.95" y2="260.95"/>
<line x1="732.00" x2="742.00" y1="260.95" y2="260.95"/>
<line x1="91.00" x2="102.60" y1="255.75" y2="255.75"/>
<line x1="732.00" x2="742.00" y1="255.75" y2="255.75"/>
<line x1="91.00" x2="102.60" y1="251.72" y2="251.72"/>
<line x1="732.00" x2="742.00" y1="251.72" y2="251.72"/>
<line x1="91.00" x2="102.60" y1="248.43" y2="248.43"/>
<line x1="732.00" x2="742.00" y1="248.43" y2="248.43"/>
<line x1="91.00" x2="102.60" y1="245.64" y2="245.64"/>
<line x1="732.00" x2="742.00" y1="245.64" y2="245.64"/>
<line x1="91.00" x2="102.60" y1="243.23" y2="243.23"/>
<line x1="732.00" x2="742.00" y1="243.23" y2="243.23"/>
<line x1="91.00" x2="102.60" y1="241.10" y2="241.10"/>
<line x1="732.00" x2="742.00" y1="241.10" y2="241.10"/>
<line x1="91.00" x2="114.00" y1="239.20" y2="239.20"/>
<line x1="720.50" x2="742.00" y1="239.20" y2="239.20"/>
<line x1="91.00" x2="102.60" y1="226.68" y2="226.68"/>
<line x1="732.00" x2="742.00" y1="226.68" y2="226.68"/>
<line x1="91.00" x2="102.60" y1="219.35" y2="219.35"/>
<line x1="732.00" x2="742.00" y1="219.35" y2="219.35"/>
<line x1="91.00" x2="102.60" y1="214.15" y2="214.15"/>
<line x1="732.00" x2="742.00" y1="214.15" y2="214.15"/>
<line x1="91.00" x2="102.60" y1="210.12" y2="210.12"/>
<line x1="732.00" x2="742.00" y1="210.12" y2="210.12"/>
<line x1="91.00" x2="102.60" y1="206.83" y2="206.83"/>
<line x1="732.00" x2="742.00" y1="206.83" y2="206.83"/>
<line x1="91.00" x2="102.60" y1="204.04" y2="204.04"/>
<line x1="732.00" x2="742.00" y1="204.04" y2="204.04"/>
<line x1="91.00" x2="102.60" y1="201.63" y2="201.63"/>
<line x1="732.00" x2="742.00" y1="201.63" y2="201.63"/>
<line x1="91.00" x2="102.60" y1="199.50" y2="199.50"/>
<line x1="732.00" x2="742.00" y1="199.50" y2="199.50"/>
<line x1="91.00" x2="114.00" y1="197.60" y2="197.60"/>
<line x1="720.50" x2="742.00" y1="197.60" y2="197.60"/>
<line x1="91.00" x2="102.60" y1="185.08" y2="185.08"/>
<line x1="732.00" x2="742.00" y1="185.08" y2="185.08"/>
<line x1="91.00" x2="102.60" y1="177.75" y2="177.75"/>
<line x1="732.00" x2="742.00" y1="177.75" y2="177.75"/>
<line x1="91.00" x2="102.60" y1="172.55" y2="172.55"/>
<line x1="732.00" x2="742.00" y1="172.55" y2="172.55"/>
<line x1="91.00" x2="102.60" y1="168.52" y2="168.52"/>
<line x1="732.00" x2="742.00" y1="168.52" y2="168.52"/>
<line x1="91.00" x2="102.60" y1="165.23" y2="165.23"/>
<line x1="732.00" x2="742.00" y1="165.23" y2="165.23"/>
<line x1="91.00" x2="102.60" y1="162.44" y2="162.44"/>
<line x1="732.00" x2="742.00" y1="162.44" y2="162.44"/>
<line x1="91.00" x2="102.60" y1="160.03" y2="160.03"/>
<line x1="732.00" x2="742.00" y1="160.03" y2="160.03"/>
<line x1="91.00" x2="102.60" y1="157.90" y2="157.90"/>
<line x1="732.00" x2="742.00" y1="157.90" y2="157.90"/>
<line x1="91.00" x2="114.00" y1="156.00" y2="156.00"/>
<line x1="720.50" x2="742.00" y1="156.00" y2="156.00"/>
<line x1="91.00" x2="102.60" y1="143.48" y2="143.48"/>
<line x1="732.00" x2="742.00" y1="143.48" y2="143.48"/>
<line x1="91.00" x2="102.60" y1="136.15" y2="136.15"/>
<line x1="732.00" x2="742.00" y1="136.15" y2="136.15"/>
<line x1="91.00" x2="102.60" y1="130.95" y2="130.95"/>
<line x1="732.00" x2="742.00" y1="130.95" y2="130.95"/>
<line x1="91.00" x2="102.60" y1="126.92" y2="126.92"/>
<line x1="732.00" x2="742.00" y1="126.92" y2="126.92"/>
<line x1="91.00" x2="102.60" y1="123.63" y2="123.63"/>
<line x1="732.00" x2="742.00" y1="123.63" y2="123.63"/>
<line x1="91.00" x2="102.60" y1="120.84" y2="120.84"/>
<line x1="732.00" x2="742.00" y1="120.84" y2="120.84"/>
<line x1="91.00" x2="102.60" y1="118.43" y2="118.43"/>
<line x1="732.00" x2="742.00" y1="118.43" y2="118.43"/>
<line x1="91.00" x2="102.60" y1="116.30" y2="116.30"/>
<line x1="732.00" x2="742.00" y1="116.30" y2="116.30"/>
<line x1="91.00" x2="114.00" y1="114.40" y2="114.40"/>
<line x1="720.50" x2="742.00" y1="114.40" y2="114.40"/>
<line x1="91.00" x2="102.60" y1="101.88" y2="101.88"/>
<line x1="732.00" x2="742.00" y1="101.88" y2="101.88"/>
<line x1="91.00" x2="102.60" y1="94.55" y2="94.55"/>
<line x1="732.00" x2="742.00" y1="94.55" y2="94.55"/>
<line x1="91.00" x2="102.60" y1="89.35" y2="89.35"/>
<line x1="732.00" x2="742.00" y1="89.35" y2="89.35"/>
<line x1="91.00" x2="102.60" y1="85.32" y2="85.32"/>
<line x1="732.00" x2="742.00" y1="85.32" y2="85.32"/>
<line x1="91.00" x2="102.60" y1="82.03" y2="82.03"/>
<line x1="732.00" x2="742.00" y1="82.03" y2="82.03"/>
<line x1="91.00" x2="102.60" y1="79.24" y2="79.24"/>
<line x1="732.00" x2="742.00" y1="79.24" y2="79.24"/>
<line x1="91.00" x2="102.60" y1="76.83" y2="76.83"/>
<line x1="732.00" x2="742.00" y1="76.83" y2="76.83"/>
<line x1="91.00" x2="102.60" y1="74.70" y2="74.70"/>
<line x1="732.00" x2="742.00" y1="74.70" y2="74.70"/>
<line x1="91.00" x2="114.00" y1="72.80" y2="72.80"/>
<line x1="720.50" x2="742.00" y1="72.80" y2="72.80"/>
<line x1="91.00" x2="102.60" y1="60.28" y2="60.28"/>
<line x1="732.00" x2="742.00" y1="60.28" y2="60.28"/>
<line x1="91.00" x2="102.60" y1="52.95" y2="52.95"/>
<line x1="732.00" x2="742.00" y1="52.95" y2="52.95"/>
<line x1="91.00" x2="102.60" y1="47.75" y2="47.75"/>
<line x1="732.00" x2="742.00" y1="47.75" y2="47.75"/>
<line x1="91.00" x2="102.60" y1="43.72" y2="43.72"/>
<line x1="732.00" x2="742.00" y1="43.72" y2="43.72"/>
<line x1="91.00" x2="102.60" y1="40.43" y2="40.43"/>
<line x1="732.00" x2="742.00" y1="40.43" y2="40.43"/>
<line x1="91.00" x2="102.60" y1="37.64" y2="37.64"/>
<line x1="732.00" x2="742.00" y1="37.64" y2="37.64"/>
<line x1="91.00" x2="101.30" y1="916.51" y2="916.51"/>
<line x1="732.70" x2="742.00" y1="916.51" y2="916.51"/>
<line x1="91.00" x2="105.80" y1="916.81" y2="916.81"/>
<line x1="729.40" x2="742.00" y1="916.81" y2="916.81"/>
<line x1="91.00" x2="101.30" y1="884.68" y2="884.68"/>
<line x1="732.70" x2="742.00" y1="884.68" y2="884.68"/>
<line x1="91.00" x2="101.30" y1="857.77" y2="857.77"/>
<line x1="732.70" x2="742.00" y1="857.77" y2="857.77"/>
<line x1="91.00" x2="101.30" y1="834.46" y2="834.46"/>
<line x1="732.70" x2="742.00" y1="834.46" y2="834.46"/>
<line x1="91.00" x2="101.30" y1="813.89" y2="813.89"/>
<line x1="732.70" x2="742.00" y1="813.89" y2="813.89"/>
<line x1="91.00" x2="101.30" y1="795.50" y2="795.50"/>
<line x1="732.70" x2="742.00" y1="795.50" y2="795.50"/>
<line x1="91.00" x2="105.80" y1="795.80" y2="795.80"/>
<line x1="729.40" x2="742.00" y1="795.80" y2="795.80"/>
<line x1="91.00" x2="101.30" y1="778.86" y2="778.86"/>
<line x1="732.70" x2="742.00" y1="778.86" y2="778.86"/>
<line x1="91.00" x2="101.30" y1="763.67" y2="763.67"/>
<line x1="732.70" x2="742.00" y1="763.67" y2="763.67"/>
<line x1="91.00" x2="101.30" y1="749.69" y2="749.69"/>
<line x1="732.70" x2="742.00" y1="749.69" y2="749.69"/>
<line x1="91.00" x2="101.30" y1="736.76" y2="736.76"/>
<line x1="732.70" x2="742.00" y1="736.76" y2="736.76"/>
<line x1="91.00" x2="101.30" y1="724.71" y2="724.71"/>
<line x1="732.70" x2="742.00" y1="724.71" y2="724.71"/>
<line x1="91.00" x2="105.80" y1="725.01" y2="725.01"/>
<line x1="729.40" x2="742.00" y1="725.01" y2="725.01"/>
<line x1="91.00" x2="101.30" y1="713.44" y2="713.44"/>
<line x1="732.70" x2="742.00" y1="713.44" y2="713.44"/>
<line x1="91.00" x2="101.30" y1="702.86" y2="702.86"/>
<line x1="732.70" x2="742.00" y1="702.86" y2="702.86"/>
<line x1="91.00" x2="101.30" y1="692.88" y2="692.88"/>
<line x1="732.70" x2="742.00" y1="692.88" y2="692.88"/>
<line x1="91.00" x2="101.30" y1="683.44" y2="683.44"/>
<line x1="732.70" x2="742.00" y1="683.44" y2="683.44"/>
<line x1="91.00" x2="101.30" y1="674.49" y2="674.49"/>
<line x1="732.70" x2="742.00" y1="674.49" y2="674.49"/>
<line x1="91.00" x2="105.80" y1="674.79" y2="674.79"/>
<line x1="729.40" x2="742.00" y1="674.79" y2="674.79"/>
<line x1="91.00" x2="101.30" y1="665.97" y2="665.97"/>
<line x1="732.70" x2="742.00" y1="665.97" y2="665.97"/>
<line x1="91.00" x2="101.30" y1="657.85" y2="657.85"/>
<line x1="732.70" x2="742.00" y1="657.85" y2="657.85"/>
<line x1="91.00" x2="101.30" y1="650.09" y2="650.09"/>
<line x1="732.70" x2="742.00" y1="650.09" y2="650.09"/>
<line x1="91.00" x2="101.30" y1="642.66" y2="642.66"/>
<line x1="732.70" x2="742.00" y1="642.66" y2="642.66"/>
<line x1="111.59" x2="111.59" y1="35.00" y2="39.00"/>
<line x1="111.59" x2="111.59" y1="631.00" y2="635.00"/>
<line x1="111.59" x2="111.59" y1="635.00" y2="637.80" stroke-width="1.4"/>
<line x1="111.59" x2="111.59" y1="953.00" y2="956.00" stroke-width="1.4"/>
<line x1="132.18" x2="132.18" y1="35.00" y2="43.00"/>
<line x1="132.18" x2="132.18" y1="627.00" y2="635.00"/>
<line x1="132.18" x2="132.18" y1="635.00" y2="640.00" stroke-width="1.4"/>
<line x1="132.18" x2="132.18" y1="951.00" y2="956.00" stroke-width="1.4"/>
<line x1="152.77" x2="152.77" y1="35.00" y2="39.00"/>
<line x1="152.77" x2="152.77" y1="631.00" y2="635.00"/>
<line x1="152.77" x2="152.77" y1="635.00" y2="637.80" stroke-width="1.4"/>
<line x1="152.77" x2="152.77" y1="953.00" y2="956.00" stroke-width="1.4"/>
<line x1="173.36" x2="173.36" y1="35.00" y2="43.00"/>
<line x1="173.36" x2="173.36" y1="627.00" y2="635.00"/>
<line x1="173.36" x2="173.36" y1="635.00" y2="640.00" stroke-width="1.4"/>
<line x1="173.36" x2="173.36" y1="951.00" y2="956.00" stroke-width="1.4"/>
<line x1="193.95" x2="193.95" y1="35.00" y2="39.00"/>
<line x1="193.95" x2="193.95" y1="631.00" y2="635.00"/>
<line x1="193.95" x2="193.95" y1="635.00" y2="637.80" stroke-width="1.4"/>
<line x1="193.95" x2="193.95" y1="953.00" y2="956.00" stroke-width="1.4"/>
<line x1="214.54" x2="214.54" y1="35.00" y2="43.00"/>
<line x1="214.54" x2="214.54" y1="627.00" y2="635.00"/>
<line x1="214.54" x2="214.54" y1="635.00" y2="640.00" stroke-width="1.4"/>
<line x1="214.54" x2="214.54" y1="951.00" y2="956.00" stroke-width="1.4"/>
<line x1="235.13" x2="235.13" y1="35.00" y2="39.00"/>
<line x1="235.13" x2="235.13" y1="631.00" y2="635.00"/>
<line x1="235.13" x2="235.13" y1="635.00" y2="637.80" stroke-width="1.4"/>
<line x1="235.13" x2="235.13" y1="953.00" y2="956.00" stroke-width="1.4"/>
<line x1="255.72" x2="255.72" y1="35.00" y2="43.00"/>
<line x1="255.72" x2="255.72" y1="627.00" y2="635.00"/>
<line x1="255.72" x2="255.72" y1="635.00" y2="640.00" stroke-width="1.4"/>
<line x1="255.72" x2="255.72" y1="951.00" y2="956.00" stroke-width="1.4"/>
<line x1="276.31" x2="276.31" y1="35.00" y2="39.00"/>
<line x1="276.31" x2="276.31" y1="631.00" y2="635.00"/>
<line x1="276.31" x2="276.31" y1="635.00" y2="637.80" stroke-width="1.4"/>
<line x1="276.31" x2="276.31" y1="953.00" y2="956.00" stroke-width="1.4"/>
<line x1="296.90" x2="296.90" y1="35.00" y2="51.00"/>
<line x1="296.90" x2="296.90" y1="619.00" y2="635.00"/>
<line x1="296.90" x2="296.90" y1="635.00" y2="645.00" stroke-width="1.4"/>
<line x1="296.90" x2="296.90" y1="946.00" y2="956.00" stroke-width="1.4"/>
<line x1="317.49" x2="317.49" y1="35.00" y2="39.00"/>
<line x1="317.49" x2="317.49" y1="631.00" y2="635.00"/>
<line x1="317.49" x2="317.49" y1="635.00" y2="637.80" stroke-width="1.4"/>
<line x1="317.49" x2="317.49" y1="953.00" y2="956.00" stroke-width="1.4"/>
<line x1="338.08" x2="338.08" y1="35.00" y2="43.00"/>
<line x1="338.08" x2="338.08" y1="627.00" y2="635.00"/>
<line x1="338.08" x2="338.08" y1="635.00" y2="640.00" stroke-width="1.4"/>
<line x1="338.08" x2="338.08" y1="951.00" y2="956.00" stroke-width="1.4"/>
<line x1="358.67" x2="358.67" y1="35.00" y2="39.00"/>
<line x1="358.67" x2="358.67" y1="631.00" y2="635.00"/>
<line x1="358.67" x2="358.67" y1="635.00" y2="637.80" stroke-width="1.4"/>
<line x1="358.67" x2="358.67" y1="953.00" y2="956.00" stroke-width="1.4"/>
<line x1="379.26" x2="379.26" y1="35.00" y2="43.00"/>
<line x1="379.26" x2="379.26" y1="627.00" y2="635.00"/>
<line x1="379.26" x2="379.26" y1="635.00" y2="640.00" stroke-width="1.4"/>
<line x1="379.26" x2="379.26" y1="951.00" y2="956.00" stroke-width="1.4"/>
<line x1="399.85" x2="399.85" y1="35.00" y2="39.00"/>
<line x1="399.85" x2="399.85" y1="631.00" y2="635.00"/>
<line x1="399.85" x2="399.85" y1="635.00" y2="637.80" stroke-width="1.4"/>
<line x1="399.85" x2="399.85" y1="953.00" y2="956.00" stroke-width="1.4"/>
<line x1="420.44" x2="420.44" y1="35.00" y2="43.00"/>
<line x1="420.44" x2="420.44" y1="627.00" y2="635.00"/>
<line x1="420.44" x2="420.44" y1="635.00" y2="640.00" stroke-width="1.4"/>
<line x1="420.44" x2="420.44" y1="951.00" y2="956.00" stroke-width="1.4"/>
<line x1="441.03" x2="441.03" y1="35.00" y2="39.00"/>
<line x1="441.03" x2="441.03" y1="631.00" y2="635.00"/>
<line x1="441.03" x2="441.03" y1="635.00" y2="637.80" stroke-width="1.4"/>
<line x1="441.03" x2="441.03" y1="953.00" y2="956.00" stroke-width="1.4"/>
<line x1="461.62" x2="461.62" y1="35.00" y2="43.00"/>
<line x1="461.62" x2="461.62" y1="627.00" y2="635.00"/>
<line x1="461.62" x2="461.62" y1="635.00" y2="640.00" stroke-width="1.4"/>
<line x1="461.62" x2="461.62" y1="951.00" y2="956.00" stroke-width="1.4"/>
<line x1="482.21" x2="482.21" y1="35.00" y2="39.00"/>
<line x1="482.21" x2="482.21" y1="631.00" y2="635.00"/>
<line x1="482.21" x2="482.21" y1="635.00" y2="637.80" stroke-width="1.4"/>
<line x1="482.21" x2="482.21" y1="953.00" y2="956.00" stroke-width="1.4"/>
<line x1="502.80" x2="502.80" y1="35.00" y2="51.00"/>
<line x1="502.80" x2="502.80" y1="619.00" y2="635.00"/>
<line x1="502.80" x2="502.80" y1="635.00" y2="645.00" stroke-width="1.4"/>
<line x1="502.80" x2="502.80" y1="946.00" y2="956.00" stroke-width="1.4"/>
<line x1="523.39" x2="523.39" y1="35.00" y2="39.00"/>
<line x1="523.39" x2="523.39" y1="631.00" y2="635.00"/>
<line x1="523.39" x2="523.39" y1="635.00" y2="637.80" stroke-width="1.4"/>
<line x1="523.39" x2="523.39" y1="953.00" y2="956.00" stroke-width="1.4"/>
<line x1="543.98" x2="543.98" y1="35.00" y2="43.00"/>
<line x1="543.98" x2="543.98" y1="627.00" y2="635.00"/>
<line x1="543.98" x2="543.98" y1="635.00" y2="640.00" stroke-width="1.4"/>
<line x1="543.98" x2="543.98" y1="951.00" y2="956.00" stroke-width="1.4"/>
<line x1="564.57" x2="564.57" y1="35.00" y2="39.00"/>
<line x1="564.57" x2="564.57" y1="631.00" y2="635.00"/>
<line x1="564.57" x2="564.57" y1="635.00" y2="637.80" stroke-width="1.4"/>
<line x1="564.57" x2="564.57" y1="953.00" y2="956.00" stroke-width="1.4"/>
<line x1="585.16" x2="585.16" y1="35.00" y2="43.00"/>
<line x1="585.16" x2="585.16" y1="627.00" y2="635.00"/>
<line x1="585.16" x2="585.16" y1="635.00" y2="640.00" stroke-width="1.4"/>
<line x1="585.16" x2="585.16" y1="951.00" y2="956.00" stroke-width="1.4"/>
<line x1="605.75" x2="605.75" y1="35.00" y2="39.00"/>
<line x1="605.75" x2="605.75" y1="631.00" y2="635.00"/>
<line x1="605.75" x2="605.75" y1="635.00" y2="637.80" stroke-width="1.4"/>
<line x1="605.75" x2="605.75" y1="953.00" y2="956.00" stroke-width="1.4"/>
<line x1="626.34" x2="626.34" y1="35.00" y2="43.00"/>
<line x1="626.34" x2="626.34" y1="627.00" y2="635.00"/>
<line x1="626.34" x2="626.34" y1="635.00" y2="640.00" stroke-width="1.4"/>
<line x1="626.34" x2="626.34" y1="951.00" y2="956.00" stroke-width="1.4"/>
<line x1="646.93" x2="646.93" y1="35.00" y2="39.00"/>
<line x1="646.93" x2="646.93" y1="631.00" y2="635.00"/>
<line x1="646.93" x2="646.93" y1="635.00" y2="637.80" stroke-width="1.4"/>
<line x1="646.93" x2="646.93" y1="953.00" y2="956.00" stroke-width="1.4"/>
<line x1="667.52" x2="667.52" y1="35.00" y2="43.00"/>
<line x1="667.52" x2="667.52" y1="627.00" y2="635.00"/>
<line x1="667.52" x2="667.52" y1="635.00" y2="640.00" stroke-width="1.4"/>
<line x1="667.52" x2="667.52" y1="951.00" y2="956.00" stroke-width="1.4"/>
<line x1="688.11" x2="688.11" y1="35.00" y2="39.00"/>
<line x1="688.11" x2="688.11" y1="631.00" y2="635.00"/>
<line x1="688.11" x2="688.11" y1="635.00" y2="637.80" stroke-width="1.4"/>
<line x1="688.11" x2="688.11" y1="953.00" y2="956.00" stroke-width="1.4"/>
<line x1="708.70" x2="708.70" y1="35.00" y2="51.00"/>
<line x1="708.70" x2="708.70" y1="619.00" y2="635.00"/>
<line x1="708.70" x2="708.70" y1="635.00" y2="645.00" stroke-width="1.4"/>
<line x1="708.70" x2="708.70" y1="946.00" y2="956.00" stroke-width="1.4"/>
<line x1="729.29" x2="729.29" y1="35.00" y2="39.00"/>
<line x1="729.29" x2="729.29" y1="631.00" y2="635.00"/>
<line x1="729.29" x2="729.29" y1="635.00" y2="637.80" stroke-width="1.4"/>
<line x1="729.29" x2="729.29" y1="953.00" y2="956.00" stroke-width="1.4"/>
</g>
<g stroke="#000" stroke-width="2" fill="none" shape-rendering="crispEdges"><rect x="91.0" y="35.0" width="651.0" height="921.0"/><line x1="91.0" x2="742.0" y1="635.0" y2="635.0"/></g>
<text x="104.3" y="28.6" font-size="23.95" text-anchor="start" fill="#000">13000 GeV pp</text>
<text x="730.6" y="28.6" font-size="23.6" text-anchor="end" fill="#000">Jets</text>
<text x="114.7" y="87.0" font-size="24.15" text-anchor="start" fill="#000">CMS, #sqrt(s) = 13 TeV, Inclusive AK4 jets, 0.0 &lt; |y| &lt; 0.5</text>
<text transform="translate(79.3,624.9) scale(0.96,1)" font-size="22.6" text-anchor="end">10<tspan font-size="14.6" dy="-11.3">−7</tspan></text>
<text transform="translate(79.3,583.3) scale(0.96,1)" font-size="22.6" text-anchor="end">10<tspan font-size="14.6" dy="-11.3">−6</tspan></text>
<text transform="translate(79.3,541.7) scale(0.96,1)" font-size="22.6" text-anchor="end">10<tspan font-size="14.6" dy="-11.3">−5</tspan></text>
<text transform="translate(79.3,500.1) scale(0.96,1)" font-size="22.6" text-anchor="end">10<tspan font-size="14.6" dy="-11.3">−4</tspan></text>
<text transform="translate(79.3,458.5) scale(0.96,1)" font-size="22.6" text-anchor="end">10<tspan font-size="14.6" dy="-11.3">−3</tspan></text>
<text transform="translate(79.3,416.9) scale(0.96,1)" font-size="22.6" text-anchor="end">10<tspan font-size="14.6" dy="-11.3">−2</tspan></text>
<text transform="translate(79.3,375.3) scale(0.96,1)" font-size="22.6" text-anchor="end">10<tspan font-size="14.6" dy="-11.3">−1</tspan></text>
<text transform="translate(80.2,329.9) scale(0.96,1)" font-size="22.6" text-anchor="end" fill="#000">1</text>
<text transform="translate(79.3,288.3) scale(0.96,1)" font-size="22.6" text-anchor="end" fill="#000">10</text>
<text transform="translate(79.3,250.5) scale(0.96,1)" font-size="22.6" text-anchor="end">10<tspan font-size="14.6" dy="-11.3">2</tspan></text>
<text transform="translate(79.3,208.9) scale(0.96,1)" font-size="22.6" text-anchor="end">10<tspan font-size="14.6" dy="-11.3">3</tspan></text>
<text transform="translate(79.3,167.3) scale(0.96,1)" font-size="22.6" text-anchor="end">10<tspan font-size="14.6" dy="-11.3">4</tspan></text>
<text transform="translate(79.3,125.7) scale(0.96,1)" font-size="22.6" text-anchor="end">10<tspan font-size="14.6" dy="-11.3">5</tspan></text>
<text transform="translate(79.3,84.1) scale(0.96,1)" font-size="22.6" text-anchor="end">10<tspan font-size="14.6" dy="-11.3">6</tspan></text>
<text transform="translate(76.9,683.4) scale(0.955,1)" font-size="24.2" text-anchor="end" fill="#000">2</text>
<text transform="translate(748.3,683.4) scale(0.955,1)" font-size="24.2" text-anchor="start" fill="#000">2</text>
<text transform="translate(76.9,804.4) scale(0.955,1)" font-size="24.2" text-anchor="end" fill="#000">1</text>
<text transform="translate(748.3,804.4) scale(0.955,1)" font-size="24.2" text-anchor="start" fill="#000">1</text>
<text transform="translate(76.9,925.4) scale(0.955,1)" font-size="24.2" text-anchor="end" fill="#000">0.5</text>
<text transform="translate(748.3,925.4) scale(0.955,1)" font-size="24.2" text-anchor="start" fill="#000">0.5</text>
<text transform="translate(91.0,977.7) scale(0.96,1)" font-size="24.2" text-anchor="middle" fill="#000">0</text>
<text transform="translate(296.9,977.7) scale(0.96,1)" font-size="24.2" text-anchor="middle" fill="#000">1000</text>
<text transform="translate(502.8,977.7) scale(0.96,1)" font-size="24.2" text-anchor="middle" fill="#000">2000</text>
<text transform="translate(708.7,977.7) scale(0.96,1)" font-size="24.2" text-anchor="middle" fill="#000">3000</text>
<text x="744.5" y="1002.6" font-size="24.95" text-anchor="end">p<tspan font-size="17.5" dy="13.4">T</tspan><tspan dy="-13.4"> [GeV]</tspan></text>
<text transform="translate(30.8,31.4) rotate(-90)" font-size="24.2" text-anchor="end">d<tspan font-size="14.5" dy="-12.3">2</tspan><tspan dy="12.3" dx="0.7">σ/dp</tspan><tspan font-size="16" dy="12" dx="-0.5">T</tspan><tspan dy="-12" dx="1">dy [pb/GeV]</tspan></text>
<text transform="translate(35.9,793.2) rotate(-90)" font-size="17.6" class="s" text-anchor="middle">Ratio to CMS</text>
<text transform="translate(759.8,254.3) rotate(-90)" font-size="18.87" class="g" fill="#808080">Rivet 4.1.0, ≥ 100k events</text>
<text transform="translate(762.3,629.2) rotate(-90)" font-size="19.0" class="g" fill="#808080">mcplots.cern.ch [arXiv:1306.3436]</text>
<text x="415.8" y="604.8" font-size="15.75" text-anchor="middle" fill="#999" class="g2">(CMS_2021_I1972986)</text>
<rect x="147.65" y="462.15" width="11.1" height="11.1" fill="#000"/>
<line x1="129" x2="177" y1="494.0" y2="494.0" stroke="#0000ff" stroke-width="1.8"/>
<path d="M148.00 499.20L158.40 499.20L153.20 488.80Z" fill="#0000ff"/>
<line x1="129" x2="177" y1="519.8" y2="519.8" stroke="#e5303c" stroke-width="1.8" stroke-dasharray="7 4 1.65 4"/>
<path d="M153.20 514.60L154.70 518.30L159.20 518.50L155.70 520.80L157.00 524.90L153.20 522.50L149.40 524.90L150.70 520.80L147.20 518.50L151.70 518.30Z" fill="#e5303c" stroke="#e5303c" stroke-width="0.6" stroke-linejoin="round"/><circle cx="153.20" cy="519.90" r="0.85" fill="#fff"/>
<line x1="129" x2="177" y1="545.4" y2="545.4" stroke="#b4501a" stroke-width="1.8" stroke-dasharray="1.7 2.44"/>
<rect x="148.95" y="541.15" width="8.5" height="8.5" fill="none" stroke="#b4501a" stroke-width="1.2"/>
<text class="s" x="187" y="473.6" font-size="18.92">CMS</text>
<text class="s" x="187" y="499.9" font-size="18.92">Pythia 8.315 default</text>
<text class="s" x="187" y="525.7" font-size="18.92">Pythia 8.315 tune-4c</text>
<text class="s" x="187" y="551.3" font-size="18.92">Pythia 8.315 tune-4cx</text>
</svg>
</body></html>
